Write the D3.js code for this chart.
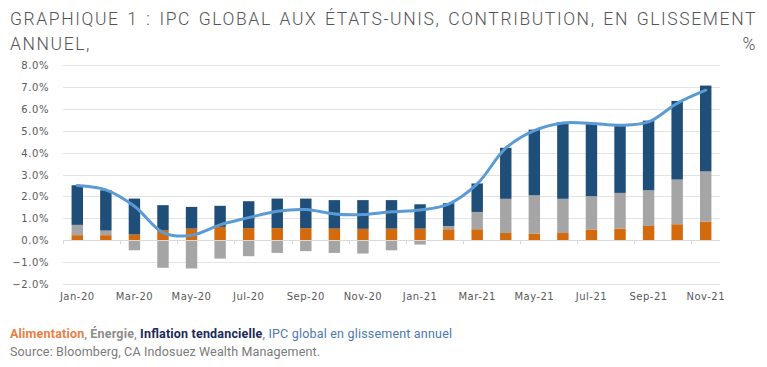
<!DOCTYPE html>
<html>
<head>
<meta charset="utf-8">
<script src="https://cdn.jsdelivr.net/npm/d3@7"></script>
<style>
  html, body { margin: 0; padding: 0; background: #fff; }
  svg { display: block; }
</style>
</head>
<body>
<svg id="chart" width="767" height="367"></svg>
<script>
const categories = ["Jan-20","Feb-20","Mar-20","Apr-20","May-20","Jun-20","Jul-20","Aug-20","Sep-20","Oct-20","Nov-20","Dec-20",
                    "Jan-21","Feb-21","Mar-21","Apr-21","May-21","Jun-21","Jul-21","Aug-21","Sep-21","Oct-21","Nov-21"];
const food   = [0.23,0.23,0.26,0.46,0.53,0.61,0.55,0.55,0.55,0.53,0.52,0.53, 0.53,0.50,0.50,0.33,0.30,0.33,0.49,0.53,0.65,0.73,0.85];
const energy = [0.47,0.21,-0.46,-1.26,-1.29,-0.84,-0.73,-0.58,-0.50,-0.58,-0.61,-0.46, -0.20,0.15,0.79,1.56,1.75,1.56,1.52,1.63,1.63,2.04,2.29];
const core   = [1.81,1.84,1.64,1.14,0.99,0.96,1.23,1.35,1.35,1.30,1.31,1.30, 1.11,1.04,1.30,2.33,3.00,3.50,3.35,3.14,3.18,3.59,3.92];
const cpi    = [2.5,2.3,1.55,0.35,0.22,0.7,1.03,1.32,1.4,1.2,1.17,1.3, 1.38,1.65,2.57,4.2,5.0,5.35,5.33,5.25,5.4,6.25,6.85];
const yTicks = [-2,-1,0,1,2,3,4,5,6,7,8];
const xLabels = ["Jan-20","Mar-20","May-20","Jul-20","Sep-20","Nov-20","Jan-21","Mar-21","May-21","Jul-21","Sep-21","Nov-21"];

const colors = { food: "#D46A0C", energy: "#A5A5A5", core: "#1F4E79", cpi: "#5B9BD5" };

const svg = d3.select("#chart");
const plot = { left: 63, right: 720, top: 65, bottom: 284 };

const x = d3.scaleBand().domain(categories).range([plot.left, plot.right]).paddingInner(0.6).paddingOuter(0.3);
const xc = d => x(d) + x.bandwidth() / 2;
const y = d3.scaleLinear().domain([-2, 8]).range([plot.bottom, plot.top]);

// Title (justified line 1 via letter- and word-spacing)
const title = svg.append("g").attr("fill", "#555555")
  .style("font-family", "'Roboto','Liberation Sans',sans-serif")
  .style("font-weight", 300)
  .style("font-size", "17.5px")
  .style("letter-spacing", "1.6px");
const t1str = "GRAPHIQUE 1 : IPC GLOBAL AUX ÉTATS-UNIS, CONTRIBUTION, EN GLISSEMENT";
const t1 = title.append("text").attr("x", 10).attr("y", 25).text(t1str);
const w1 = t1.node().getComputedTextLength();
const nSpaces = t1str.split(" ").length - 1;
t1.style("word-spacing", Math.max(0, (747 - w1) / nSpaces) + "px");
title.append("text").attr("x", 10).attr("y", 50).text("ANNUEL,");
title.append("text").attr("x", 757).attr("y", 50).attr("text-anchor", "end").text("%");

// Gridlines
svg.append("g").selectAll("line").data(yTicks.filter(t => t !== 0)).join("line")
  .attr("x1", plot.left).attr("x2", plot.right)
  .attr("y1", d => Math.round(y(d)) + 0.5).attr("y2", d => Math.round(y(d)) + 0.5)
  .attr("stroke", "#E3E3E3").attr("stroke-width", 1);

// Y axis labels
svg.append("g").selectAll("text").data(yTicks).join("text")
  .attr("x", 49).attr("y", d => y(d) + 4)
  .attr("text-anchor", "end")
  .attr("fill", "#595959")
  .style("font-family", "'DejaVu Sans',Verdana,sans-serif")
  .style("font-size", "10px")
  .style("letter-spacing", "0.6px")
  .text(d => d3.format(".1f")(d) + "%");

// Bars
const idx = d3.range(categories.length);
const barG = svg.append("g");
barG.selectAll(".food").data(idx).join("rect")
  .attr("x", i => x(categories[i])).attr("width", x.bandwidth())
  .attr("y", i => y(food[i])).attr("height", i => y(0) - y(food[i]))
  .attr("fill", colors.food);
barG.selectAll(".energy").data(idx).join("rect")
  .attr("x", i => x(categories[i])).attr("width", x.bandwidth())
  .attr("y", i => energy[i] >= 0 ? y(food[i] + energy[i]) : y(0))
  .attr("height", i => energy[i] >= 0 ? y(food[i]) - y(food[i] + energy[i]) : y(energy[i]) - y(0))
  .attr("fill", colors.energy);
const base = i => food[i] + Math.max(0, energy[i]);
barG.selectAll(".core").data(idx).join("rect")
  .attr("x", i => x(categories[i])).attr("width", x.bandwidth())
  .attr("y", i => y(base(i) + core[i]))
  .attr("height", i => y(base(i)) - y(base(i) + core[i]))
  .attr("fill", colors.core);

// Zero axis line and ticks
svg.append("line")
  .attr("x1", plot.left).attr("x2", plot.right)
  .attr("y1", Math.round(y(0)) + 0.5).attr("y2", Math.round(y(0)) + 0.5)
  .attr("stroke", "#D9D9D9");
svg.append("g").selectAll("line").data(d3.range(0, categories.length + 1, 2)).join("line")
  .attr("x1", k => Math.round(plot.left + k * (plot.right - plot.left) / categories.length) + 0.5)
  .attr("x2", k => Math.round(plot.left + k * (plot.right - plot.left) / categories.length) + 0.5)
  .attr("y1", y(0)).attr("y2", y(0) + 4)
  .attr("stroke", "#D9D9D9");

// CPI line
const line = d3.line().x((d, i) => xc(categories[i])).y(d => y(d)).curve(d3.curveCatmullRom.alpha(0.5));
svg.append("path").datum(cpi)
  .attr("d", line)
  .attr("fill", "none")
  .attr("stroke", colors.cpi)
  .attr("stroke-width", 3)
  .attr("stroke-linejoin", "round")
  .attr("stroke-linecap", "round");

// X labels
svg.append("g").selectAll("text").data(xLabels).join("text")
  .attr("x", d => xc(d)).attr("y", 300)
  .attr("text-anchor", "middle")
  .attr("fill", "#595959")
  .style("font-family", "'DejaVu Sans',Verdana,sans-serif")
  .style("font-size", "10px")
  .style("letter-spacing", "0.5px")
  .text(d => d);

// Legend
const leg = svg.append("text").attr("x", 10).attr("y", 338)
  .style("font-family", "'Roboto','Inter',sans-serif").style("font-size", "12.5px")
  .attr("textLength", 442).attr("lengthAdjust", "spacing");
const parts = [
  { t: "Alimentation", c: "#EB7E42", w: 700 },
  { t: ", ", c: "#808080", w: 400 },
  { t: "Énergie", c: "#8C8C8C", w: 700 },
  { t: ", ", c: "#808080", w: 400 },
  { t: "Inflation tendancielle", c: "#1B2A5A", w: 700 },
  { t: ", ", c: "#808080", w: 400 },
  { t: "IPC global en glissement annuel", c: "#4A78B5", w: 400 }
];
leg.selectAll("tspan").data(parts).join("tspan")
  .attr("fill", d => d.c).style("font-weight", d => d.w).text(d => d.t);

svg.append("text").attr("x", 10).attr("y", 356)
  .attr("fill", "#7A7A7A")
  .style("font-family", "'Roboto','Inter',sans-serif").style("font-size", "12.5px")
  .attr("textLength", 310).attr("lengthAdjust", "spacing")
  .text("Source: Bloomberg, CA Indosuez Wealth Management.");
</script>
</body>
</html>
